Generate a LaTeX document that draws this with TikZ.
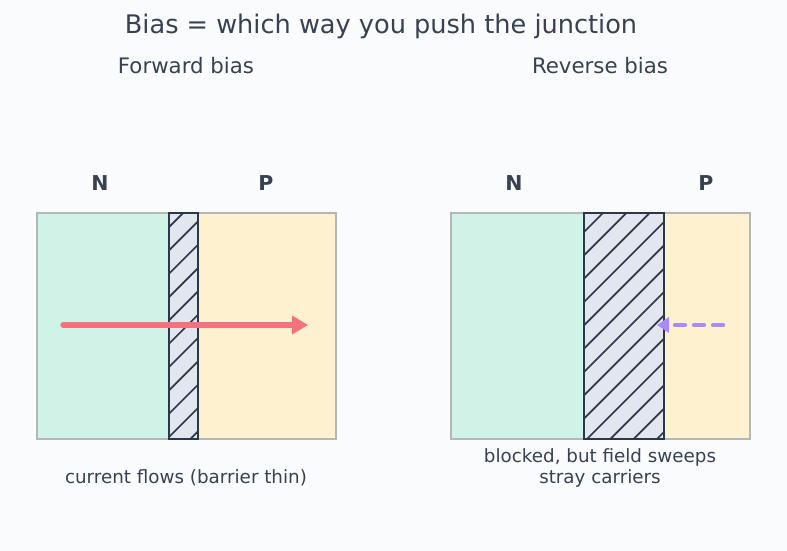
\documentclass[tikz,border=0pt]{standalone}
\usepackage{fontspec}
\setmainfont{DejaVu Sans}
\usetikzlibrary{arrows.meta}
\definecolor{bg}{HTML}{FAFBFD}
\definecolor{txt}{HTML}{374151}
\definecolor{nfill}{HTML}{D1F2E6}
\definecolor{pfill}{HTML}{FDF1D0}
\definecolor{boxline}{HTML}{B3B8B6}
\definecolor{barfill}{HTML}{E2E6EE}
\definecolor{barline}{HTML}{2D3748}
\definecolor{redarr}{HTML}{F4717E}
\definecolor{purarr}{HTML}{A78BFA}
\tikzset{
  region/.style={draw=boxline, line width=2.2pt},
  barrier/.style={draw=barline, line width=2pt},
  lbl/.style={text=txt, font=\fontsize{20.5}{22}\selectfont\bfseries},
  sub/.style={text=txt, font=\fontsize{21.3}{24}\selectfont},
  captext/.style={text=txt, font=\fontsize{18.3}{20.5}\selectfont, align=center}
}
\begin{document}
\begin{tikzpicture}[x=1pt,y=-1pt]
\fill[bg] (0,0) rectangle (787,551);
\useasboundingbox (0,0) rectangle (787,551);
\node[text=txt, font=\fontsize{25.6}{28}\selectfont] (title) at (381,26) {Bias = which way you push the junction};
\node[sub] (fwd) at (186,66) {Forward bias};
\node[sub] (rev) at (600,66) {Reverse bias};
% forward
\fill[nfill] (37,213) rectangle (169,439);
\fill[pfill] (198,213) rectangle (336,439);
\draw[region] (37,213) rectangle (336,439);
\fill[barfill] (169,213) rectangle (198,439);
\begin{scope}
\clip (169,213) rectangle (198,439);
\foreach \k in {-20,...,-7} {
  \pgfmathsetmacro{\c}{816+23.33*\k}
  \draw[barline, line width=1.7pt] ({\c-450},450) -- ({\c-200},200);
}
\end{scope}
\draw[barrier] (169,213) rectangle (198,439);
\node[lbl] (n1) at (100,183) {N};
\node[lbl] (p1) at (266,183) {P};
\coordinate (fa) at (63,325);
\coordinate (fb) at (308,325);
\draw[redarr, line width=5.2pt, line cap=round, -{Triangle[length=16pt,width=18pt]}] (fa) -- (fb);
\node[captext] (fcap) at (186,478) {current flows (barrier thin)};
% reverse
\fill[nfill] (451,213) rectangle (584,439);
\fill[pfill] (664,213) rectangle (750,439);
\draw[region] (451,213) rectangle (750,439);
\fill[barfill] (584,213) rectangle (664,439);
\begin{scope}
\clip (584,213) rectangle (664,439);
\foreach \k in {-2,...,14} {
  \pgfmathsetmacro{\c}{816+23.33*\k}
  \draw[barline, line width=1.7pt] ({\c-450},450) -- ({\c-200},200);
}
\end{scope}
\draw[barrier] (584,213) rectangle (664,439);
\node[lbl] (n2) at (514,183) {N};
\node[lbl] (p2) at (706,183) {P};
\coordinate (ra) at (723,325);
\coordinate (rb) at (657,325);
\draw[purarr, line width=4.4pt, line cap=round, dash pattern=on 10pt off 9pt, -{Triangle[length=12pt,width=15pt]}] (ra) -- (rb);
\node[captext] (rcap) at (600,468) {blocked, but field sweeps\\stray carriers};
\end{tikzpicture}
\end{document}
